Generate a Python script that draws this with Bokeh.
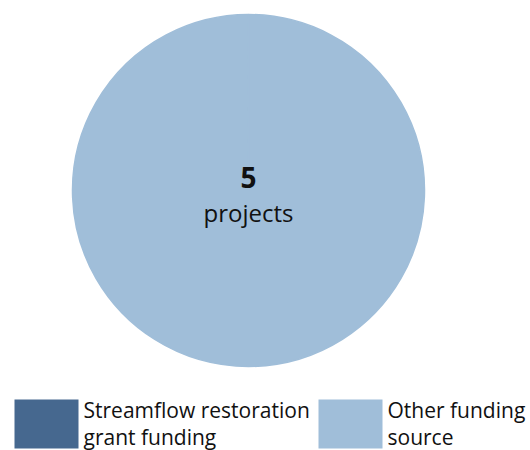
import numpy as np
from bokeh.plotting import figure
from bokeh.models import Range1d, ColumnDataSource
from bokeh.core.properties import value
from bokeh.embed import file_html
from bokeh.resources import INLINE

categories = ["Streamflow restoration\ngrant funding", "Other funding\nsource"]
counts = [0, 5]
colors = ["#46688F", "#A0BED9"]
center_value = "5"
center_label = "projects"

FONT = "Open Sans"
H = 450

p = figure(width=530, height=450, output_backend="svg", toolbar_location=None,
           x_range=Range1d(0, 530), y_range=Range1d(0, 450), min_border=0)
p.axis.visible = False
p.grid.visible = False
p.outline_line_color = None
p.background_fill_color = "white"

cx, cy, r = 248, H - 190, 176
counts_arr = np.array(counts, dtype=float)
total = counts_arr.sum()
ends = np.cumsum(counts_arr) / total * 2 * np.pi
starts = np.concatenate([[0], ends[:-1]])
# keep a full slice just short of 2*pi so the SVG arc is drawn
ends = np.minimum(ends, starts + 2 * np.pi - 1e-3)
start_ang = np.pi / 2 - ends
end_ang = np.pi / 2 - starts
mask = counts_arr > 0
src = ColumnDataSource(dict(start=start_ang[mask], end=end_ang[mask],
                            color=[c for c, m in zip(colors, mask) if m]))
p.wedge(x=cx, y=cy, radius=r, start_angle="start", end_angle="end",
        fill_color="color", line_color="color", line_width=1.5, source=src)

p.text(x=[cx], y=[H - 177], text=[center_value], text_align="center",
       text_baseline="middle", text_font=value(FONT), text_font_size="28px",
       text_font_style="bold", text_color="#111111")
p.text(x=[cx], y=[H - 212], text=[center_label], text_align="center",
       text_baseline="middle", text_font=value(FONT), text_font_size="24px",
       text_color="#111111")

# legend
sq_x = [14, 318]
txt_x = [83, 387]
p.quad(left=sq_x, right=[x + 64 for x in sq_x], top=[H - 399] * 2,
       bottom=[H - 448] * 2, fill_color=colors, line_color=None)
for tx, lab in zip(txt_x, categories):
    lines = lab.split("\n")
    for i, ln in enumerate(lines):
        p.text(x=[tx], y=[H - (409 + 27 * i)], text=[ln], text_align="left",
               text_baseline="middle", text_font=value(FONT),
               text_font_size="21px", text_color="#111111")

open("out.html", "w").write(file_html(p, INLINE))
